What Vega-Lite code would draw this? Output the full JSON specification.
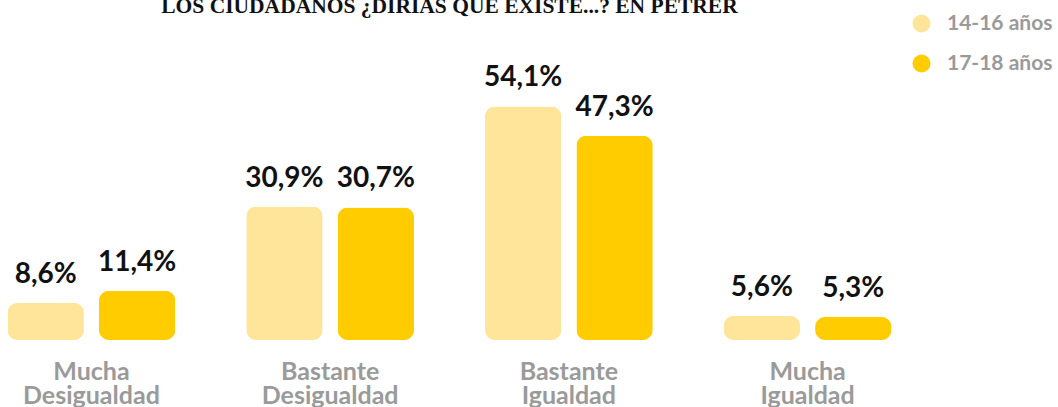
{
  "$schema": "https://vega.github.io/schema/vega-lite/v6.json",
  "width": 899,
  "height": 259,
  "autosize": {"type": "none"},
  "padding": {"left": 0, "top": 81, "right": 159, "bottom": 67},
  "background": "white",
  "title": {
    "text": "LOS CIUDADANOS ¿DIRÍAS QUE EXISTE...? EN PETRER",
    "font": "Liberation Serif",
    "fontSize": 21.5,
    "fontWeight": "bold",
    "color": "#111111",
    "anchor": "middle",
    "frame": "group",
    "baseline": "alphabetic",
    "offset": -21
  },
  "data": {
    "values": [
      {"cat": "Mucha|Desigualdad", "grupo": "14-16 años", "valor": 8.6, "etiqueta": "8,6%"},
      {"cat": "Mucha|Desigualdad", "grupo": "17-18 años", "valor": 11.4, "etiqueta": "11,4%"},
      {"cat": "Bastante|Desigualdad", "grupo": "14-16 años", "valor": 30.9, "etiqueta": "30,9%"},
      {"cat": "Bastante|Desigualdad", "grupo": "17-18 años", "valor": 30.7, "etiqueta": "30,7%"},
      {"cat": "Bastante|Igualdad", "grupo": "14-16 años", "valor": 54.1, "etiqueta": "54,1%"},
      {"cat": "Bastante|Igualdad", "grupo": "17-18 años", "valor": 47.3, "etiqueta": "47,3%"},
      {"cat": "Mucha|Igualdad", "grupo": "14-16 años", "valor": 5.6, "etiqueta": "5,6%"},
      {"cat": "Mucha|Igualdad", "grupo": "17-18 años", "valor": 5.3, "etiqueta": "5,3%"}
    ]
  },
  "encoding": {
    "x": {
      "field": "cat",
      "type": "nominal",
      "sort": null,
      "scale": {"paddingInner": 0.234, "paddingOuter": 0},
      "axis": {
        "title": null,
        "domain": false,
        "ticks": false,
        "labelAngle": 0,
        "labelExpr": "split(datum.label, '|')",
        "labelFont": "Lato",
        "labelFontSize": 25,
        "labelFontWeight": "bold",
        "labelColor": "#9a9a9a",
        "labelLineHeight": 24,
        "labelPadding": 19,
        "labelBaseline": "top"
      }
    },
    "xOffset": {
      "field": "grupo",
      "type": "nominal",
      "scale": {"paddingInner": 0.165, "paddingOuter": 0.0824}
    },
    "y": {
      "field": "valor",
      "type": "quantitative",
      "scale": {"domain": [0, 60], "nice": false},
      "axis": null
    }
  },
  "layer": [
    {
      "mark": {"type": "bar", "cornerRadius": 10},
      "encoding": {
        "color": {
          "field": "grupo",
          "type": "nominal",
          "scale": {"domain": ["14-16 años", "17-18 años"], "range": ["#fee599", "#ffcc00"]},
          "legend": {
            "title": null,
            "orient": "none",
            "legendX": 911,
            "legendY": -68,
            "symbolType": "circle",
            "symbolSize": 324,
            "symbolStrokeWidth": 0,
            "labelFont": "Lato",
            "labelFontSize": 21,
            "labelFontWeight": "bold",
            "labelColor": "#9a9a9a",
            "labelOffset": 15,
            "rowPadding": 18
          }
        }
      }
    },
    {
      "mark": {
        "type": "text",
        "font": "Lato",
        "fontSize": 28,
        "fontWeight": "bold",
        "color": "#111111",
        "baseline": "alphabetic",
        "dy": -20
      },
      "encoding": {
        "text": {"field": "etiqueta"}
      }
    }
  ],
  "config": {
    "view": {"stroke": null}
  }
}
